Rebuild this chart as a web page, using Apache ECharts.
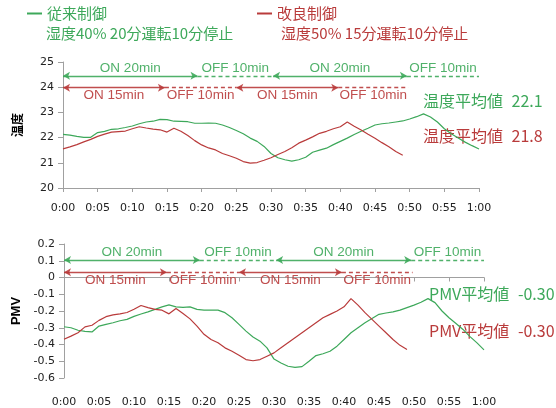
<!DOCTYPE html>
<html>
<head>
<meta charset="utf-8">
<script src="https://cdn.jsdelivr.net/npm/echarts@6/dist/echarts.min.js"></script>
<style>html,body{margin:0;padding:0;background:#fff}#c{width:556px;height:408px}</style>
</head>
<body>
<div id="c"></div>
<script>
// ---- data ----
const seriesNames = ['従来制御', '改良制御'];
const legendSub = ['湿度40% 20分運転10分停止', '湿度50% 15分運転10分停止'];
const xTicks = ['0:00','0:05','0:10','0:15','0:20','0:25','0:30','0:35','0:40','0:45','0:50','0:55','1:00'];
// temperature, one value per minute from 0:00
const tempConv = [22.13,22.10,22.05,22.01,22.01,22.20,22.25,22.33,22.35,22.40,22.46,22.55,22.62,22.65,22.72,22.71,22.65,22.64,22.63,22.57,22.57,22.58,22.57,22.50,22.40,22.28,22.15,21.98,21.85,21.65,21.37,21.20,21.12,21.07,21.12,21.22,21.42,21.50,21.58,21.72,21.85,21.98,22.12,22.25,22.37,22.50,22.55,22.58,22.62,22.66,22.74,22.83,22.94,22.82,22.62,22.35,22.15,21.98,21.82,21.68,21.55];
const tempImpr = [21.55,21.63,21.72,21.83,21.93,22.05,22.14,22.22,22.24,22.26,22.35,22.43,22.38,22.34,22.31,22.22,22.37,22.25,22.08,21.88,21.71,21.59,21.51,21.37,21.28,21.18,21.05,20.99,21.01,21.10,21.20,21.33,21.45,21.60,21.78,21.90,22.03,22.17,22.25,22.35,22.43,22.62,22.45,22.30,22.13,21.97,21.80,21.64,21.45,21.30];
// PMV, one value per minute from 0:00
const pmvConv = [-0.294,-0.300,-0.315,-0.322,-0.325,-0.290,-0.280,-0.270,-0.258,-0.250,-0.232,-0.218,-0.205,-0.190,-0.175,-0.163,-0.175,-0.178,-0.175,-0.190,-0.195,-0.195,-0.195,-0.210,-0.240,-0.280,-0.320,-0.355,-0.380,-0.420,-0.487,-0.510,-0.530,-0.537,-0.532,-0.500,-0.466,-0.455,-0.440,-0.410,-0.370,-0.330,-0.300,-0.270,-0.245,-0.220,-0.212,-0.205,-0.195,-0.180,-0.165,-0.148,-0.126,-0.150,-0.200,-0.240,-0.275,-0.310,-0.353,-0.390,-0.432];
const pmvImpr = [-0.369,-0.350,-0.330,-0.295,-0.285,-0.256,-0.234,-0.223,-0.217,-0.209,-0.190,-0.167,-0.180,-0.190,-0.195,-0.217,-0.185,-0.215,-0.247,-0.290,-0.339,-0.370,-0.390,-0.420,-0.440,-0.464,-0.490,-0.497,-0.490,-0.470,-0.450,-0.420,-0.390,-0.360,-0.330,-0.300,-0.270,-0.240,-0.220,-0.200,-0.175,-0.126,-0.165,-0.210,-0.250,-0.290,-0.330,-0.370,-0.405,-0.430];
// operating schedule: [start minute, end minute, label, running?]
const schedConv = [[0,19.4,'ON 20min',true],[19.4,30.3,'OFF 10min',false],[30.3,49.6,'ON 20min',true],[49.6,60,'OFF 10min',false]];
const schedImpr = [[0,14.7,'ON 15min',true],[14.7,25.0,'OFF 10min',false],[25.0,39.7,'ON 15min',true],[39.7,49.8,'OFF 10min',false]];
const avgLabel = ['温度平均値', 'PMV平均値'];
const avgTemp = ['22.1', '21.8'];
const avgPmv = ['-0.30', '-0.30'];

// ---- styles ----
const colors = ['#3da85a', '#b93b3b'];
const axisGray = '#a0a0a0';
const tickFont = {fontFamily: 'DejaVu Sans', fontSize: 11, color: '#222'};

function toPairs(arr){ return arr.map((v, i) => [i, v]); }

function schedLines(sched, level, color, above){
  return sched.map(s => {
    const sym = s[3] ? 'arrow' : 'none';
    return [
      {coord: [s[0], level], symbol: sym,
       lineStyle: {color: color, width: 1.3, type: s[3] ? 'solid' : [4, 3], opacity: 0.9},
       label: {show: true, formatter: s[2], position: above ? 'insideMiddleTop' : 'insideMiddleBottom',
               distance: 1, color: color, fontFamily: 'Liberation Sans', fontSize: 13.5}},
      {coord: [s[1], level], symbol: sym}
    ];
  });
}

function xAxisDef(gi, margin){
  return {type: 'value', gridIndex: gi, min: 0, max: 60, interval: 5,
    axisLine: {lineStyle: {color: axisGray}}, axisTick: {show: true, length: 4, lineStyle: {color: axisGray}},
    splitLine: {show: false},
    axisLabel: Object.assign({margin: margin, formatter: v => xTicks[v / 5]}, tickFont)};
}

function avgText(label, num, color){
  return {
    text: '{t|' + label + '} {n|' + num + '}',
    fill: color,
    font: '16px "Noto Sans CJK JP"',
    rich: {
      t: {fontFamily: 'Noto Sans CJK JP', fontSize: 16, fill: color},
      n: {fontFamily: 'Noto Sans CJK JP', fontSize: 16, fill: color, padding: [0, 0, 0, 5]}
    }
  };
}

const chart = echarts.init(document.getElementById('c'));
const markLevels = {temp: [24.45, 23.98], pmv: [0.105, 0.032]};

chart.setOption({
  animation: false,
  legend: {
    left: 22, top: 1, itemWidth: 15, itemHeight: 2, itemGap: 150, itemTextGap: 9, icon: 'rect',
    textStyle: {fontFamily: 'Noto Sans CJK JP', fontSize: 15},
    data: seriesNames.map((n, i) => ({name: n, textStyle: {color: colors[i]}, itemStyle: {color: colors[i]}}))
  },
  grid: [
    {left: 63, top: 62, width: 416, height: 126},
    {left: 64, top: 244, width: 420, height: 135}
  ],
  xAxis: [xAxisDef(0, 15), xAxisDef(1, 19)],
  yAxis: [
    {type: 'value', gridIndex: 0, min: 20, max: 25, interval: 1,
     name: '温度', nameLocation: 'middle', nameGap: 40,
     nameTextStyle: {fontFamily: 'Noto Sans CJK JP', fontSize: 12, fontWeight: 'bold', color: '#000'},
     axisLine: {show: true, lineStyle: {color: axisGray}}, axisTick: {show: true, length: 5, lineStyle: {color: axisGray}},
     splitLine: {show: false}, axisLabel: Object.assign({margin: 9}, tickFont)},
    {type: 'value', gridIndex: 1, min: -0.6, max: 0.2, interval: 0.1,
     name: 'PMV', nameLocation: 'middle', nameGap: 38,
     nameTextStyle: {fontFamily: 'Liberation Sans', fontSize: 13, fontWeight: 'bold', color: '#000'},
     axisLine: {show: true, lineStyle: {color: axisGray}}, axisTick: {show: true, length: 5, lineStyle: {color: axisGray}},
     splitLine: {show: false}, axisLabel: Object.assign({margin: 9, formatter: v => String(Math.round(v * 10) / 10)}, tickFont)}
  ],
  series: [
    {name: seriesNames[0], type: 'line', xAxisIndex: 0, yAxisIndex: 0, data: toPairs(tempConv),
     showSymbol: false, lineStyle: {width: 1.2, color: colors[0]}, itemStyle: {color: colors[0]},
     markLine: {silent: true, symbolSize: [6, 7], data: schedLines(schedConv, markLevels.temp[0], colors[0], true)}},
    {name: seriesNames[1], type: 'line', xAxisIndex: 0, yAxisIndex: 0, data: toPairs(tempImpr),
     showSymbol: false, lineStyle: {width: 1.2, color: colors[1]}, itemStyle: {color: colors[1]},
     markLine: {silent: true, symbolSize: [6, 7], data: schedLines(schedImpr, markLevels.temp[1], colors[1], false)}},
    {name: seriesNames[0], type: 'line', xAxisIndex: 1, yAxisIndex: 1, data: toPairs(pmvConv),
     showSymbol: false, lineStyle: {width: 1.2, color: colors[0]}, itemStyle: {color: colors[0]},
     markLine: {silent: true, symbolSize: [6, 7], data: schedLines(schedConv, markLevels.pmv[0], colors[0], true)}},
    {name: seriesNames[1], type: 'line', xAxisIndex: 1, yAxisIndex: 1, data: toPairs(pmvImpr),
     showSymbol: false, lineStyle: {width: 1.2, color: colors[1]}, itemStyle: {color: colors[1]},
     markLine: {silent: true, symbolSize: [6, 7], data: schedLines(schedImpr, markLevels.pmv[1], colors[1], false)}}
  ],
  graphic: [
    {type: 'text', left: 46, top: 26, style: {text: legendSub[0], fill: colors[0], font: '15px "Noto Sans CJK JP"'}},
    {type: 'text', left: 281, top: 26, style: {text: legendSub[1], fill: colors[1], font: '15px "Noto Sans CJK JP"'}},
    {type: 'text', left: 423, top: 93, style: avgText(avgLabel[0], avgTemp[0], colors[0])},
    {type: 'text', left: 423, top: 128, style: avgText(avgLabel[0], avgTemp[1], colors[1])},
    {type: 'text', left: 429, top: 286, style: avgText(avgLabel[1], avgPmv[0], colors[0])},
    {type: 'text', left: 429, top: 323, style: avgText(avgLabel[1], avgPmv[1], colors[1])}
  ]
});
</script>
</body>
</html>
